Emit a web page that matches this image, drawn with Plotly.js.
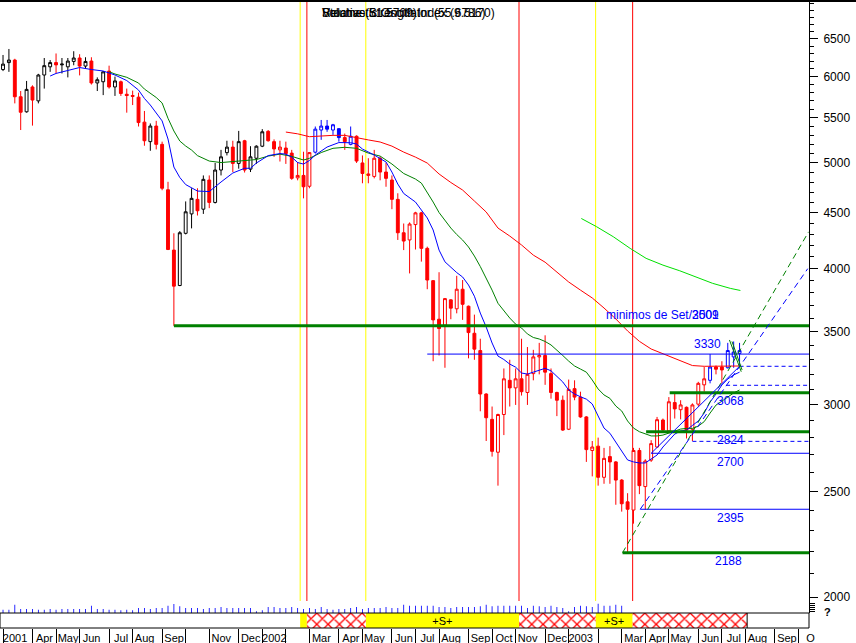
<!DOCTYPE html>
<html>
<head>
<meta charset="utf-8">
<script src="https://cdn.plot.ly/plotly-3.0.1.min.js"></script>
<style>html,body{margin:0;padding:0;background:#fff}#chart{width:856px;height:643px}</style>
</head>
<body>
<div id="chart"></div>
<script>
// ---------------- DATA (weekly candles) ----------------
const dates = ['2001-02-23','2001-03-02','2001-03-09','2001-03-16','2001-03-23','2001-03-30','2001-04-06','2001-04-13','2001-04-20','2001-04-27',
'2001-05-04','2001-05-11','2001-05-18','2001-05-25','2001-06-01','2001-06-08','2001-06-15','2001-06-22','2001-06-29','2001-07-06',
'2001-07-13','2001-07-20','2001-07-27','2001-08-03','2001-08-10','2001-08-17','2001-08-24','2001-08-31','2001-09-07','2001-09-14',
'2001-09-21','2001-09-28','2001-10-05','2001-10-12','2001-10-19','2001-10-26','2001-11-02','2001-11-09','2001-11-16','2001-11-23',
'2001-11-30','2001-12-07','2001-12-14','2001-12-21','2001-12-28','2002-01-04','2002-01-11','2002-01-18','2002-01-25','2002-02-01',
'2002-02-08','2002-02-15','2002-02-22','2002-03-01','2002-03-08','2002-03-15','2002-03-22','2002-03-29','2002-04-05','2002-04-12',
'2002-04-19','2002-04-26','2002-05-03','2002-05-10','2002-05-17','2002-05-24','2002-05-31','2002-06-07','2002-06-14','2002-06-21',
'2002-06-28','2002-07-05','2002-07-12','2002-07-19','2002-07-26','2002-08-02','2002-08-09','2002-08-16','2002-08-23','2002-08-30',
'2002-09-06','2002-09-13','2002-09-20','2002-09-27','2002-10-04','2002-10-11','2002-10-18','2002-10-25','2002-11-01','2002-11-08',
'2002-11-15','2002-11-22','2002-11-29','2002-12-06','2002-12-13','2002-12-20','2002-12-27','2003-01-03','2003-01-10','2003-01-17',
'2003-01-24','2003-01-31','2003-02-07','2003-02-14','2003-02-21','2003-02-28','2003-03-07','2003-03-14','2003-03-21','2003-03-28',
'2003-04-04','2003-04-11','2003-04-18','2003-04-25','2003-05-02','2003-05-09','2003-05-16','2003-05-23','2003-05-30','2003-06-06',
'2003-06-13','2003-06-20','2003-06-27','2003-07-04','2003-07-11','2003-07-18','2003-07-25'];

const open = [6150,6090,6180,6213,5750,5570,5870,5700,6020,6125,
6180,6150,6125,6195,6240,6135,6200,5920,5935,6070,
5870,5935,5780,5765,5745,5450,5230,5405,5200,4725,
4160,3860,4310,4490,4630,4535,4823,4600,4926,5110,
5170,4995,5240,4935,5050,5180,5345,5230,5140,5160,
5105,4845,4870,4760,5115,5360,5405,5360,5375,5275,
5200,5290,5000,4870,4860,5050,4905,4823,4630,4315,
4250,4390,4500,4175,3900,3595,3550,3745,3675,3830,
3695,3490,3365,3070,2910,2715,2940,3160,3110,3170,
3080,3205,3320,3330,3205,3080,3030,2850,3105,3050,
2925,2725,2750,2575,2690,2660,2560,2445,2403,2725,
2525,2670,2745,2906,2840,3015,2970,2985,2850,3005,
3130,3160,3250,3250,3245,3320,3345];
const high = [6460,6280,6360,6230,5820,5945,5890,6035,6240,6213,
6300,6240,6240,6330,6290,6250,6250,5990,6070,6140,
6000,5950,5850,5825,5800,5580,5435,5465,5230,4805,
4310,4330,4610,4740,4740,4870,4870,5000,5140,5240,
5240,5350,5250,5180,5190,5370,5360,5255,5240,5230,
5140,5010,5120,5115,5400,5475,5475,5430,5380,5320,
5400,5300,5080,5050,5140,5070,5000,4870,4690,4400,
4410,4510,4510,4190,3905,3970,3760,3750,3940,3905,
3700,3630,3450,3075,2990,2945,3240,3300,3240,3450,
3390,3370,3420,3475,3240,3085,3060,3165,3160,3085,
2930,2780,2800,2740,2750,2665,2565,2490,2740,2740,
2675,2785,2925,2915,3050,3070,3030,2990,3010,3150,
3250,3340,3260,3290,3420,3430,3420];
const low = [6090,6070,6060,5670,5360,5560,5410,5670,5850,6060,
6040,6040,5990,6145,6015,6100,5900,5820,5770,5850,
5760,5760,5560,5650,5400,5185,5130,5145,4720,4160,
3545,3855,4300,4355,4475,4490,4545,4590,4870,5080,
4905,4940,4900,4905,4990,5170,5230,5065,5015,4990,
4825,4820,4640,4740,5100,5250,5340,5305,5230,5140,
5190,5000,4790,4790,4840,4820,4755,4535,4250,4160,
3960,4165,4060,3830,3290,3330,3245,3595,3640,3590,
3310,3300,2960,2780,2690,2530,2815,2990,3000,3060,
3000,3160,3200,3130,3040,2930,2840,2845,3030,2920,
2660,2580,2530,2540,2540,2430,2395,2190,2335,2485,
2405,2660,2740,2840,2825,2915,2910,2795,2780,2990,
3085,3140,3200,3140,3240,3245,3250];
const close = [6250,6160,6213,5750,5565,5840,5710,6020,6140,6180,
6150,6160,6200,6240,6135,6195,5920,5960,6060,5870,
5945,5790,5765,5755,5445,5240,5405,5200,4740,4165,
3855,4315,4510,4640,4520,4830,4600,4926,5065,5170,
4995,5230,4926,5065,5180,5340,5240,5150,5170,5100,
4840,4870,4755,5110,5370,5405,5370,5420,5275,5230,
5290,5020,4890,4885,5050,4905,4840,4630,4315,4240,
4395,4500,4175,3905,3590,3525,3755,3680,3830,3710,
3495,3375,3070,2920,2720,2940,3170,3110,3170,3085,
3200,3320,3330,3215,3080,3030,2845,3100,3050,2925,
2730,2745,2575,2680,2660,2560,2435,2407,2725,2530,
2665,2765,2908,2845,3020,2975,3000,2845,3000,3140,
3170,3250,3235,3230,3365,3355,3365];
// relative weekly volume (read as bar heights)
const volume = [null,10,10,25,12,12,12,10,10,12,
10,12,12,12,12,12,22,12,12,10,
10,8,10,8,15,15,12,15,15,22,
27,20,15,15,15,12,15,15,18,15,
15,15,15,15,5,8,18,18,15,15,
18,15,12,15,12,18,12,10,12,12,
15,18,12,15,15,15,18,15,15,25,
22,22,22,22,22,18,18,15,18,18,
18,18,20,25,20,22,22,22,22,22,
15,22,20,18,22,18,15,5,18,22,
20,18,28,22,22,25,22,null,null,null,
null,null,null,null,null,null,null,null,null,null,
null,null,null,null,null,null,null];
// candles highlighted in blue by the charting program
const blueWeeks = ['2002-03-08','2002-03-15','2002-03-22','2002-03-29','2002-04-05','2002-04-19','2003-06-20','2003-07-11','2003-07-18','2003-07-25'];
const lastBlackWeek = '2002-01-04';

// moving averages (week index into dates -> value)
const maFastIdx = [9,10,12,14,16,18,20,22,24,25,26,27,28,29,30,31,32,34,36,38,40,42,43,44,46,48,49,50,51,52,53,54,55,56,58,60,61,62,64,66,67,68,69,70,71,72,73,74,75,76,77,78,79,80,81,82,83,84,85,86,87,88,89,90,91,92,93,94,95,96,97,98,99,100,101,102,103,104,105,106,107,108,109,110,111,112,113,114,115,116,117,118,119,120,121,122,123,124,125,126];
const maFastVal = [6007,6040,6078,6116,6090,6071,6020,5950,5832,5729,5650,5556,5464,5259,4957,4849,4777,4712,4707,4803,4895,4944,4944,4999,5078,5100,5094,5062,5004,4988,5026,5084,5127,5171,5220,5218,5204,5149,5084,5010,4905,4782,4688,4648,4604,4527,4452,4340,4160,4058,4009,3967,3930,3864,3774,3642,3536,3419,3326,3302,3270,3249,3209,3202,3215,3229,3241,3224,3189,3149,3096,3070,3052,3037,3006,2925,2857,2826,2774,2717,2671,2660,2654,2654,2677,2699,2745,2780,2821,2839,2845,2873,2900,2949,3018,3070,3129,3169,3196,3215];
const maMidIdx = [19,20,22,24,25,26,27,28,29,30,31,32,33,34,36,38,40,42,44,46,48,50,51,52,53,55,57,59,61,63,65,67,69,71,72,73,74,75,76,77,78,79,80,81,82,83,84,85,86,87,88,89,90,91,92,93,94,95,96,97,98,99,100,101,102,103,104,105,106,107,108,109,110,111,112,113,114,115,116,117,118,119,120,121,122,123,124,125,126];
const maMidVal = [6062,6033,5991,5919,5844,5789,5741,5675,5494,5349,5237,5182,5138,5078,5020,5004,5015,5028,5036,5073,5094,5070,5047,5031,5049,5111,5157,5168,5157,5105,5073,4989,4890,4833,4792,4702,4604,4503,4429,4358,4299,4249,4187,4108,4018,3921,3823,3718,3657,3604,3558,3529,3485,3459,3448,3430,3405,3369,3330,3291,3257,3236,3215,3162,3103,3064,3042,2993,2962,2900,2857,2835,2821,2810,2810,2815,2827,2839,2851,2855,2855,2869,2896,2949,2999,3024,3050,3077,3096];
const maSlowIdx = [49,51,53,55,57,59,61,63,65,67,69,71,73,75,77,79,81,83,85,87,89,91,93,95,97,99,101,103,105,107,109,111,113,115,117,118,120,122,124,126];
const maSlowVal = [5337,5317,5285,5294,5300,5300,5272,5249,5226,5181,5116,5062,4999,4885,4798,4722,4614,4508,4358,4285,4205,4116,4055,3971,3889,3823,3760,3681,3597,3507,3431,3376,3344,3309,3281,3260,3255,3255,3255,3257];
// light green projection curve
const projDates = ['2003-01-18','2003-02-05','2003-02-25','2003-03-17','2003-04-05','2003-04-25','2003-05-15','2003-06-04','2003-06-23','2003-07-14','2003-07-26'];
const projVals = [4447,4371,4279,4175,4088,4030,3982,3927,3878,3837,3820];

// horizontal levels
const levelStart = ['2001-09-21','2002-07-19','2003-05-03','2003-04-05','2003-05-30','2003-04-11','2003-03-29','2003-03-08','2003-07-25','2003-07-09'];
const levelPrice = [3545,3340,3078,2835,2778,2709,2407,2196,3255,3127];
const levelKind  = ['support','resist','support','support','dashed','resist','resist','support','dashed','dashed'];
const levelEnd = '2003-10-20';
// trend lines (from, to, kind)
const trendFrom = [['2003-03-08',2196],['2003-03-29',2407],['2003-04-11',2709],['2003-07-13',3441],['2003-07-16',3430]];
const trendTo   = [['2003-10-15',4323],['2003-10-14',4000],['2003-07-25',3255],['2003-07-27',3218],['2003-07-28',3230]];
const trendKind = ['supportDash','resistDash','resist','fan','fan'];
// level captions
const capText  = ['3330','3068','2824','2700','2395','2188','minimos de Set/2001','3509'];
const capDate  = ['2003-06-17','2003-07-14','2003-07-14','2003-07-14','2003-07-14','2003-07-12','2003-04-24','2003-06-14'];
const capPrice = [3413,3025,2786,2660,2362,2157,3627,3627];

// signal bands
const bandStart = ['2002-02-18','2002-02-26','2002-05-07','2002-11-05','2003-02-04','2003-03-20'];
const bandEnd   = ['2002-02-26','2002-05-07','2002-11-05','2003-02-04','2003-03-20','2003-08-03'];
const bandType  = ['buy','sell','buy','sell','buy','sell'];
const bandText  = ['','','+S+','','+S+',''];

// axis ticks
const monthTicks = ['2001-03-02','2001-04-06','2001-05-04','2001-06-01','2001-07-06','2001-08-03','2001-09-07','2001-10-05','2001-11-02','2001-12-07',
'2002-01-04','2002-02-01','2002-03-01','2002-04-05','2002-05-03','2002-06-07','2002-07-05','2002-08-02','2002-09-06','2002-10-04','2002-11-01','2002-12-06',
'2003-01-03','2003-02-07','2003-03-07','2003-04-04','2003-05-02','2003-06-06','2003-07-04','2003-08-01','2003-09-05','2003-10-03'];
const monthLabels = ['2001','Apr','May','Jun','Jul','Aug','Sep','','Nov','Dec',
'2002','','Mar','Apr','May','Jun','Jul','Aug','Sep','Oct','Nov','Dec',
'2003','','Mar','Apr','May','Jun','Jul','Aug','Sep','O'];
const priceTicks = [2000,2500,3000,3500,4000,4500,5000,5500,6000,6500];
const titleTexts = ['Relative Strength Index (9.5170)','Stochastic Oscillator (55.6786)','Volume (51.5709)'];

// ---------------- BUILD ----------------
const GREEN='#008000', BLUE='#0000ff', RED='#ff0000', YEL='#ffff00';
const blueSet = new Set(blueWeeks);
function pick(pred){
  const g={x:[],open:[],high:[],low:[],close:[]};
  dates.forEach((d,i)=>{ if(pred(d)){g.x.push(d);g.open.push(open[i]);g.high.push(high[i]);g.low.push(low[i]);g.close.push(close[i]);} });
  return g;
}
function candle(g, upLine, dnColor){
  return Object.assign({type:'candlestick', xaxis:'x', yaxis:'y', hoverinfo:'skip', whiskerwidth:0,
    increasing:{line:{color:upLine,width:1}, fillcolor:'#ffffff'},
    decreasing:{line:{color:dnColor,width:1}, fillcolor:dnColor}}, g);
}
const traces = [];
traces.push(candle(pick(d=>d<=lastBlackWeek), '#000000', RED));
traces.push(candle(pick(d=>d>lastBlackWeek && !blueSet.has(d)), RED, RED));
traces.push(candle(pick(d=>blueSet.has(d)), BLUE, BLUE));

function maTrace(idx, vals, color){
  return {type:'scatter', mode:'lines', x: idx.map(i=>dates[i]), y: vals, line:{color:color,width:1}, hoverinfo:'skip', xaxis:'x', yaxis:'y'};
}
traces.push(maTrace(maSlowIdx, maSlowVal, RED));
traces.push(maTrace(maMidIdx, maMidVal, GREEN));
traces.push(maTrace(maFastIdx, maFastVal, BLUE));
traces.push({type:'scatter', mode:'lines', x:projDates, y:projVals, line:{color:'#00e000',width:1}, hoverinfo:'skip'});

levelStart.forEach((s,i)=>{
  const k = levelKind[i];
  traces.push({type:'scatter', mode:'lines', x:[s, levelEnd], y:[levelPrice[i], levelPrice[i]], hoverinfo:'skip',
    line: k==='support' ? {color:GREEN,width:3} : (k==='resist' ? {color:BLUE,width:1} : {color:BLUE,width:1,dash:'4px,3px'})});
});
const trendStyle = {supportDash:{color:GREEN,width:1,dash:'6px,4px'}, resistDash:{color:BLUE,width:1,dash:'6px,4px'},
  resist:{color:BLUE,width:1}, fan:{color:GREEN,width:1}};
trendFrom.forEach((f,i)=>{
  traces.push({type:'scatter', mode:'lines', x:[f[0], trendTo[i][0]], y:[f[1], trendTo[i][1]], hoverinfo:'skip', line:trendStyle[trendKind[i]]});
});

// volume
traces.push({type:'bar', x:dates, y:volume, xaxis:'x', yaxis:'y2', width:86400000, marker:{color:BLUE, line:{width:0}}, hoverinfo:'skip'});

// signal band strip
const mid = bandStart.map((s,i)=> (Date.parse(s)+Date.parse(bandEnd[i]))/2);
const wid = bandStart.map((s,i)=> Date.parse(bandEnd[i])-Date.parse(s));
const buyIdx = bandType.map((t,i)=>t==='buy'?i:-1).filter(i=>i>=0);
const sellIdx = bandType.map((t,i)=>t==='sell'?i:-1).filter(i=>i>=0);
traces.push({type:'bar', xaxis:'x', yaxis:'y3', x:buyIdx.map(i=>mid[i]), y:buyIdx.map(()=>1), width:buyIdx.map(i=>wid[i]),
  marker:{color:YEL, line:{width:0}}, text:buyIdx.map(i=>bandText[i]), textposition:'inside', insidetextanchor:'middle',
  textfont:{size:11,color:'#000'}, constraintext:'none', textangle:0, hoverinfo:'skip'});
traces.push({type:'bar', xaxis:'x', yaxis:'y3', x:sellIdx.map(i=>mid[i]), y:sellIdx.map(()=>1), width:sellIdx.map(i=>wid[i]),
  marker:{color:'#ffffff', line:{width:0}, pattern:{shape:'x', fgcolor:RED, bgcolor:'#ffffff', size:8, solidity:0.3}}, hoverinfo:'skip'});

const STRIP = 15/627;
const shapes = [];
bandStart.forEach((s,i)=>{
  shapes.push({type:'line', xref:'x', yref:'paper', x0:s, x1:s, y0:STRIP, y1:1, layer:'below',
    line:{color: bandType[i]==='buy'?YEL:RED, width:1}});
});
shapes.push({type:'rect', xref:'paper', yref:'paper', x0:0, x1:1, y0:0, y1:STRIP, line:{color:'#000',width:1}, fillcolor:'rgba(0,0,0,0)'});
shapes.push({type:'line', xref:'x', yref:'paper', x0:bandEnd[bandEnd.length-1], x1:bandEnd[bandEnd.length-1], y0:0, y1:STRIP, line:{color:'#000',width:1}});
shapes.push({type:'line', xref:'paper', yref:'paper', x0:0, x1:856/809, y0:1, y1:1, line:{color:'#000',width:2}});

const annotations = capText.map((t,i)=>({x:capDate[i], y:Math.log10(capPrice[i]), xref:'x', yref:'y', text:t, showarrow:false,
  font:{size:12,color:BLUE}, xanchor:'center', yanchor:'middle'}));
titleTexts.forEach(t=>annotations.push({x:320/809, y:1, xref:'paper', yref:'paper', xanchor:'left', yanchor:'top', yshift:-3,
  text:t, showarrow:false, font:{size:12,color:'#000'}}));
annotations.push({x:833/809, y:8/627, xref:'paper', yref:'paper', text:'<b>?</b>', showarrow:false, font:{size:11,color:'#000'}});

const minorVals = []; for(let v=1900; v<=7000; v+=100) minorVals.push(v);

const layout = {
  width:856, height:643, margin:{l:0,r:47,t:1,b:15}, showlegend:false,
  paper_bgcolor:'#ffffff', plot_bgcolor:'#ffffff', barmode:'overlay',
  font:{family:'Liberation Sans, Arial, sans-serif', size:12, color:'#000'},
  xaxis:{type:'date', range:['2001-02-26 10:00','2003-10-15 12:00'], anchor:'y3', tickmode:'array', tickvals:monthTicks, ticktext:monthLabels,
    ticks:'outside', ticklen:15, tickwidth:1, tickcolor:'#000', tickangle:0, ticklabelstandoff:-15, ticklabelshift:12, tickfont:{size:11},
    showgrid:false, zeroline:false, showline:false, rangeslider:{visible:false}, fixedrange:true, automargin:false},
  yaxis:{type:'log', side:'right', anchor:'x', domain:[STRIP,1], range:[Math.log10(1933.6), Math.log10(7038)],
    tickmode:'array', tickvals:priceTicks, ticktext:priceTicks.map(String), ticks:'outside', ticklen:8, tickcolor:'#000',
    ticklabelstandoff:3,
    showline:true, linecolor:'#000', linewidth:1, showgrid:false, zeroline:false, tickfont:{size:12},
    minor:{tickmode:'array', tickvals:minorVals, ticks:'outside', ticklen:4, tickcolor:'#000', showgrid:false}},
  yaxis2:{domain:[STRIP, STRIP+12/627], range:[0,36], side:'right', anchor:'x', showticklabels:false, ticks:'outside', ticklen:5,
    tickmode:'array', tickvals:[6,12,18,24,30], tickcolor:'#000', showgrid:false, zeroline:false},
  yaxis3:{domain:[0,STRIP], range:[0,1], anchor:'x', showticklabels:false, showgrid:false, zeroline:false, ticks:''},
  shapes:shapes, annotations:annotations
};
Plotly.newPlot('chart', traces, layout, {staticPlot:true, displayModeBar:false});
</script>
</body>
</html>
